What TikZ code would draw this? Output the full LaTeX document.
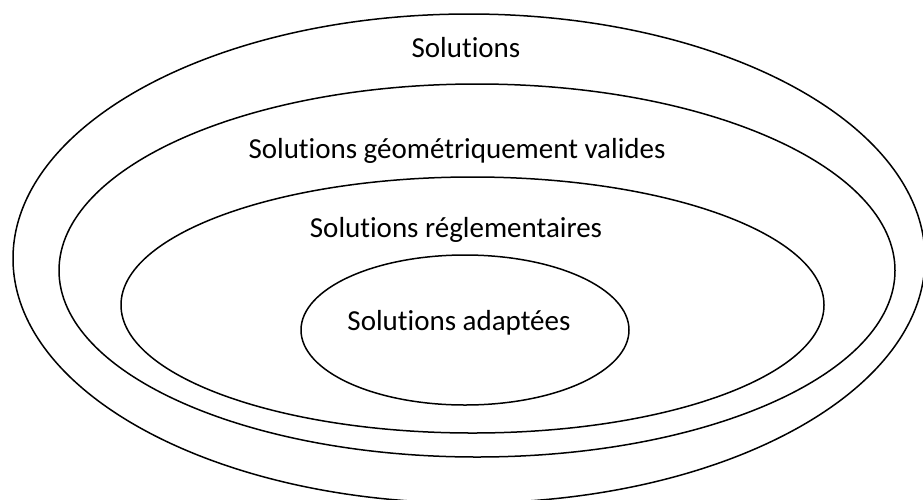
\documentclass[tikz,border=0pt]{standalone}
\usepackage{fontspec}
\setmainfont[Ligatures=NoCommon]{Carlito}
\begin{document}
\begin{tikzpicture}[x=1pt,y=-1pt,
  ring/.style={draw=black,line width=1.5pt},
  lab/.style={anchor=base,inner sep=0pt,font=\fontsize{29}{34}\selectfont}]
\useasboundingbox (0,0) rectangle (923,499);
\begin{scope}
\clip (0,0) rectangle (923,499);
\draw[ring] (469,258.5) ellipse [x radius=456, y radius=244.5];
\draw[ring] (477,270.5) ellipse [x radius=418, y radius=186.5];
\draw[ring] (472.5,305) ellipse [x radius=351.5, y radius=128];
\draw[ring] (465,330) ellipse [x radius=164, y radius=75];
\end{scope}
\node[lab] (s1) at (466,57) {Solutions};
\node[lab] (s2) at (457,158) {Solutions géométriquement valides};
\node[lab] (s3) at (456,237) {Solutions réglementaires};
\node[lab] (s4) at (459,330) {Solutions adaptées};
\end{tikzpicture}
\end{document}
